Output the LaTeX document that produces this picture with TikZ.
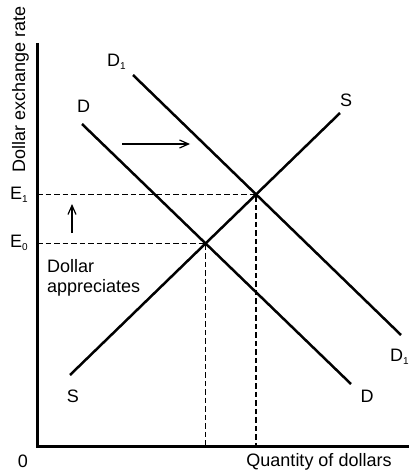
\documentclass[tikz,border=0pt]{standalone}
\usepackage{fontspec}
\setmainfont{Liberation Sans}
\usetikzlibrary{arrows.meta,intersections}
\newcommand{\sbs}[1]{\raisebox{-3pt}{\fontsize{10}{10}\selectfont #1}}
\begin{document}
\begin{tikzpicture}[x=1pt,y=-1pt,
  lbl/.style={inner sep=0pt, font=\fontsize{18}{20}\selectfont},
  axis/.style={line width=3pt},
  curve/.style={line width=2.5pt},
  guide/.style={line width=1.2pt, dash pattern=on 5.5pt off 3pt},
  move/.style={line width=1.2pt, -{Straight Barb[length=9pt,width=8pt]}}]
\useasboundingbox (0,0) rectangle (409,473);
% axes
\coordinate (top) at (37,43);
\coordinate (orig) at (37,446);
\coordinate (right) at (409,446);
\draw[axis] (top) -- (orig) -- (right);
% curves
\coordinate (s1) at (70,375);
\coordinate (s2) at (340,113);
\coordinate (d1) at (82,124);
\coordinate (d2) at (351,384);
\coordinate (dd1) at (133,75);
\coordinate (dd2) at (401,335);
\draw[curve, name path=S] (s1) -- (s2);
\draw[curve, name path=D] (d1) -- (d2);
\draw[curve, name path=D1] (dd1) -- (dd2);
\path[name intersections={of=S and D, by=e0}];
\path[name intersections={of=S and D1, by=e1}];
% guides
\draw[guide] (orig |- e0) -- (e0) -- (e0 |- orig);
\draw[guide] (orig |- e1) -- (e1) -- (e1 |- orig);
% shift arrows
\coordinate (h1) at (122,144);
\coordinate (h2) at (190,144);
\draw[move] (h1) -- (h2);
\coordinate (v1) at (72,233);
\coordinate (v2) at (72,204);
\draw[move] (v1) -- (v2);
% labels
\node[lbl, anchor=base, rotate=90] (ylab) at (25,89) {Dollar exchange rate};
\node[lbl, anchor=base west] (lD1t) at (107,67) {D\sbs{1}};
\node[lbl, anchor=base west] (lDt) at (77,113) {D};
\node[lbl, anchor=base] (lSt) at (346,107) {S};
\node[lbl, anchor=base] (lSb) at (73,402) {S};
\node[lbl, anchor=base] (lDb) at (367,402) {D};
\node[lbl, anchor=base west] (lD1b) at (390,361) {D\sbs{1}};
\node[lbl, anchor=base west] (lE1) at (10,199) {E\sbs{1}};
\node[lbl, anchor=base west] (lE0) at (10,247) {E\sbs{0}};
\node[lbl, anchor=north west, align=left] (app) at (47,259) {Dollar\\appreciates};
\node[lbl, anchor=base] (zero) at (23,467) {0};
\node[lbl, anchor=base] (qty) at (319,466) {Quantity of dollars};
\end{tikzpicture}
\end{document}
